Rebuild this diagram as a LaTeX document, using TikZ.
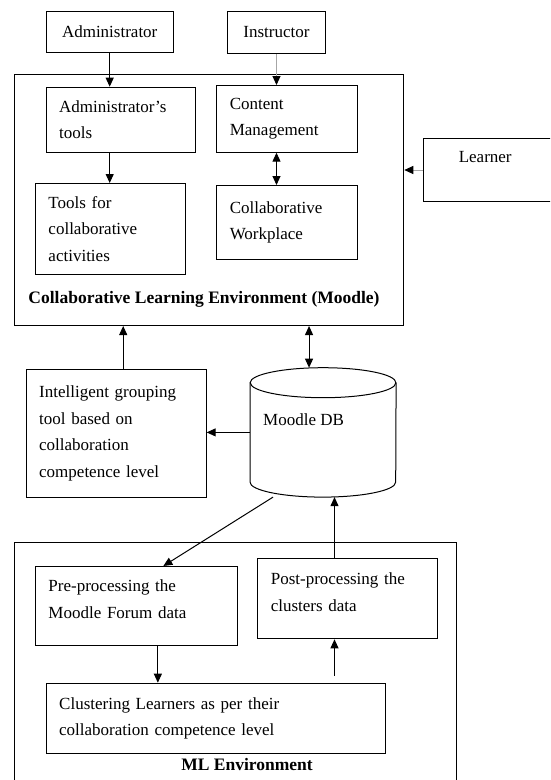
\documentclass[tikz,border=0pt]{standalone}
\usepackage{fontspec}
\setmainfont{Liberation Serif}
\usetikzlibrary{arrows.meta,calc}
\tikzset{
  box/.style={draw, line width=1pt, anchor=north west, align=left, inner xsep=13pt, inner ysep=0pt, font=\fontsize{17}{26.5}\selectfont},
  env/.style={draw, line width=1pt, anchor=north west, inner sep=0pt},
  lbl/.style={inner sep=0pt, font=\fontsize{17.5}{20}\selectfont\bfseries},
  txt/.style={inner sep=0pt, font=\fontsize{17}{20}\selectfont},
  arr/.style={line width=1pt, -{Triangle[length=9pt,width=8pt]}},
  grayarr/.style={line width=1pt, draw=gray!70, -{Triangle[length=9pt,width=8pt,color=black]}},
  dbl/.style={line width=1pt, {Triangle[length=9pt,width=8pt]}-{Triangle[length=9pt,width=8pt]}},
}
\begin{document}
\begin{tikzpicture}[x=1pt, y=-1pt]
    \clip (0,0) rectangle (550,780);
    % environments
    \node[env, minimum width=389.3pt, minimum height=250.7pt] (cle) at (14,74.3) {};
    \node[env, minimum width=442pt, minimum height=250pt] (ml) at (14,542.3) {};
    \node[lbl] (clelbl) at (204,299) {Collaborative Learning Environment (Moodle)};
    \node[lbl] (mllbl) at (247,765) {ML Environment};
    % users
    \node[box, align=center, text width=101pt, minimum height=41pt] (admin) at (45.7,10.7) {Administrator};
    \node[box, align=center, text width=72pt, minimum height=42.6pt] (instr) at (227,10.7) {Instructor};
    \node[box, inner xsep=35.6pt, text width=70pt, minimum height=63.6pt] (learner) at (422.7,137.7) {Learner\\\mbox{}};
    % moodle
    \node[box, text width=123.6pt, minimum height=65pt] (atools) at (45.7,86.7) {Administrator’s\\tools};
    \node[box, text width=114.4pt, minimum height=66.7pt] (content) at (216.3,85) {Content\\Management};
    \node[box, text width=123.7pt, minimum height=91pt] (tfca) at (35,183) {Tools for\\collaborative\\activities};
    \node[box, text width=114.4pt, minimum height=74pt] (cwork) at (216.3,185) {Collaborative\\Workplace};
    \node[box, text width=154pt, minimum height=127.4pt] (intel) at (25.7,369.3) {Intelligent grouping\\tool based on\\collaboration\\competence level};
    % database
    \node[inner sep=0pt, minimum width=145.7pt, minimum height=129pt, anchor=north west] (db) at (250,367.7) {};
    \draw[line width=1pt] ($(db.north west)+(0,15)$) -- ($(db.south west)+(0,-15)$)
        arc[start angle=180, end angle=360, x radius=72.85pt, y radius=15pt] -- ($(db.north east)+(0,15)$);
    \draw[line width=1pt] ($(db.north)+(0,15)$) ellipse[x radius=72.85pt, y radius=15pt];
    \node[txt, anchor=base west] (dblbl) at (263,425) {Moodle DB};
    % ml
    \node[box, text width=175.7pt, minimum height=79pt, text depth=40pt] (pre) at (35,566) {Pre-processing the\\Moodle Forum data};
    \node[box, text width=154pt, minimum height=80pt, text depth=40pt] (post) at (257.3,558.3) {Post-processing the\\clusters data};
    \node[box, text width=313.3pt, minimum height=70.6pt] (clust) at (45.7,682.7) {Clustering Learners as per their\\collaboration competence level};
    % connectors
    \draw[arr] (admin.south) -- (admin.south |- atools.north);
    \draw[grayarr] (instr.south) -- (instr.south |- content.north);
    \draw[arr] (admin.south |- atools.south) -- (admin.south |- tfca.north);
    \draw[dbl] (instr.south |- content.south) -- (instr.south |- cwork.north);
    \draw[grayarr] (learner.west) -- (learner.west -| cle.east);
    \coordinate (ig) at ([xshift=7pt]intel.north);
    \draw[arr] (ig) -- (ig |- cle.south);
    \coordinate (dbc) at ([xshift=-14pt]db.north);
    \draw[dbl] (dbc |- cle.south) -- (dbc);
    \draw[arr] (db.west) -- (db.west -| intel.east);
    \draw[arr] ([xshift=-50pt]db.south) -- ([xshift=27pt]pre.north);
    \coordinate (pp) at ([xshift=-13.3pt]post.north);
    \draw[arr] (pp) -- (pp |- db.south);
    \coordinate (pc) at ([xshift=21.5pt]pre.south);
    \draw[arr] (pc) -- (pc |- clust.north);
    \draw[arr] ($(pp |- clust.north)+(0,-7)$) -- (pp |- post.south);
\end{tikzpicture}
\end{document}
